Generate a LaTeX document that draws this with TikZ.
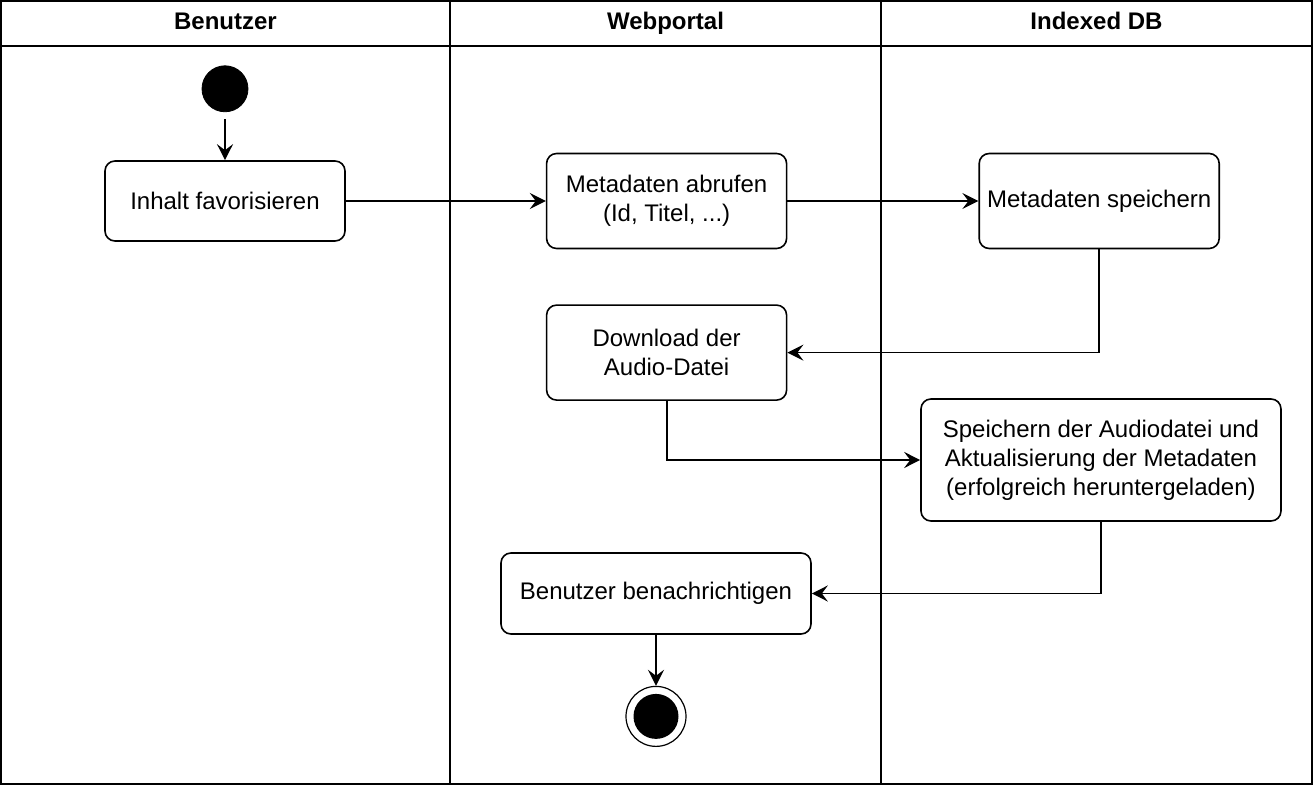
\documentclass[tikz,border=0pt]{standalone}
\usepackage{fontspec}
\setmainfont{Liberation Sans}
\usetikzlibrary{arrows.meta,positioning}

\begin{document}
\begin{tikzpicture}[
    x=0.5pt, y=-0.5pt,
    act/.style={draw, rounded corners=5pt, line width=0.8pt, fill=white, minimum width=#1, minimum height=47.5pt, align=center, font=\fontsize{12}{14.5}\selectfont},
    act/.default=120pt,
    lanehead/.style={anchor=base, font=\bfseries\fontsize{12}{14.5}\selectfont},
    startnode/.style={circle, fill=black, draw=black, minimum size=23pt, inner sep=0pt},
    endnode/.style={circle, draw, fill=white, line width=0.6pt, minimum size=30pt, inner sep=0pt,
        path picture={\fill[black] (path picture bounding box.center) circle (11.25pt);}},
    arr/.style={-{Stealth[length=8pt, width=8pt, inset=3pt]}, line width=0.9pt}
]
\useasboundingbox (0,0) rectangle (1314,786);

% Swimlanes
\draw[line width=1pt] (1,1) rectangle (1312,784);
\draw[line width=1pt] (1,46) -- (1312,46);
\draw[line width=1pt] (450,1) -- (450,784);
\draw[line width=1pt] (881,1) -- (881,784);
\node[lanehead] (hdruser) at (225.5,30) {Benutzer};
\node[lanehead] (hdrportal) at (665.5,30) {Webportal};
\node[lanehead] (hdrdb) at (1096.5,30) {Indexed DB};

% Benutzer
\node[act, minimum height=40pt] (fav) at (225,201) {Inhalt favorisieren};
\node[startnode, above=24pt of fav] (start) {};

% Webportal
\node[act, right=100pt of fav] (fetch) {Metadaten abrufen\\(Id, Titel, ...)};
\node[act, below=27.5pt of fetch] (download) {Download der\\Audio-Datei};
\node[act=155pt, minimum height=40.5pt] (notify) at (656,593.5) {Benutzer benachrichtigen};
\node[endnode, below=25.5pt of notify] (end) {};

% Indexed DB
\node[act, right=95.5pt of fetch] (storemeta) {Metadaten speichern};
\node[act=180pt, minimum height=61pt] (storeaudio) at (1101,460) {Speichern der Audiodatei und\\Aktualisierung der Metadaten\\(erfolgreich heruntergeladen)};

\draw[arr, shorten <=3.5pt] (start) -- (fav);
\draw[arr] (fav) -- (fetch);
\draw[arr] (fetch) -- (storemeta);
\draw[arr] (storemeta.south) |- (download.east);
\draw[arr] (download.south) |- (storeaudio.west);
\draw[arr] (storeaudio.south) |- (notify.east);
\draw[arr] (notify) -- (end);
\end{tikzpicture}
\end{document}
